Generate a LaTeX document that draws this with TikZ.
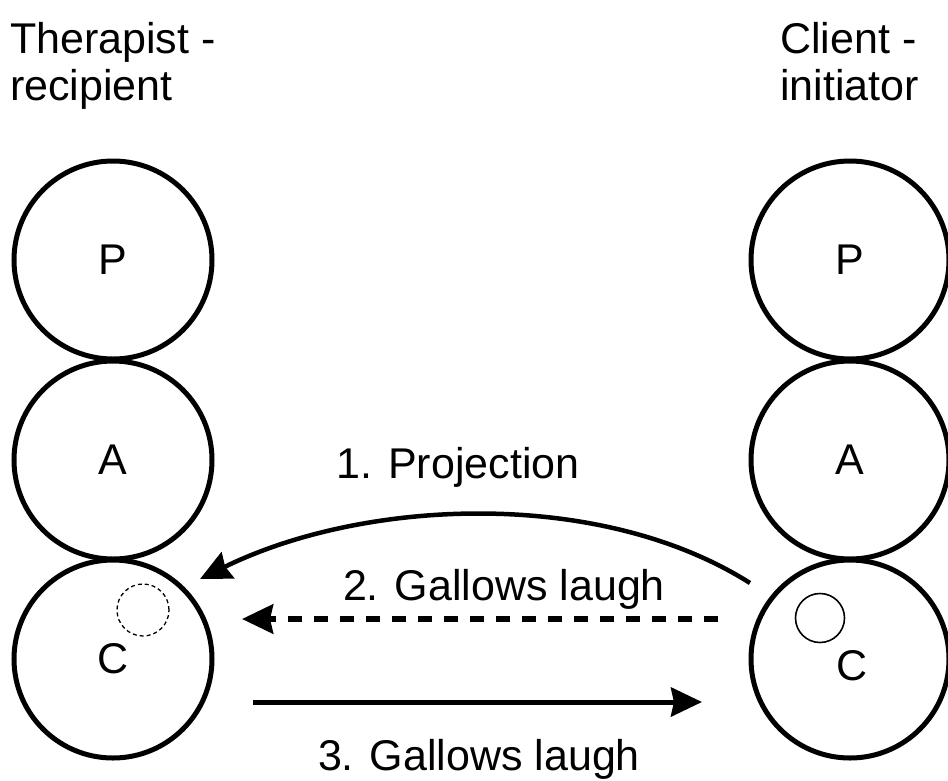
\documentclass[tikz,border=0pt]{standalone}
\usepackage{fontspec}
\setmainfont{Liberation Sans}
\usetikzlibrary{arrows.meta}
\begin{document}
\begin{tikzpicture}[x=1pt,y=-1pt,
  font=\fontsize{43}{47}\selectfont,
  ego/.style={circle,draw,line width=5pt,minimum size=198pt,inner sep=0pt},
  inner/.style={circle,draw,minimum size=50pt,inner sep=0pt},
  lbl/.style={anchor=base,inner sep=0pt},
  head/.style={anchor=base west,inner sep=0pt},
  tip/.style={-{Stealth[length=31pt,width=29pt,inset=3pt]}}
]
\useasboundingbox (0,0) rectangle (948,780);

% column headings
\node[head] (th1) at (10,53) {Therapist -};
\node[head] (th2) at (10,100) {recipient};
\node[head] (ch1) at (780,53) {Client -};
\node[head] (ch2) at (780,100) {initiator};

% therapist ego states
\node[ego] (tp) at (113,260) {P};
\node[ego] (ta) at (113,460) {A};
\node[ego] (tc) at (113,659) {C};
\node[inner,dashed,line width=1.3pt,dash pattern=on 4pt off 3pt,minimum size=52pt] (tcs) at (143,610) {};

% client ego states
\node[ego] (cp) at (850,260) {P};
\node[ego] (ca) at (850,460) {A};
\node[ego] (cc) at (850,659) {};
\node[inner,line width=1.6pt,minimum size=49pt] (ccs) at (820,618) {};
\node[lbl] (ccl) at (852,680) {C};

% connector end points
\coordinate (pStart) at (750,583);
\coordinate (pEnd) at (200,579);
\coordinate (gStart) at (718,619);
\coordinate (gEnd) at (242,619);
\coordinate (rStart) at (253,702);
\coordinate (rEnd) at (702,702);

% transactions
\draw[tip,line width=4.5pt] (pStart) .. controls (600,488) and (365,498) .. (pEnd);
\draw[tip,line width=6pt,dash pattern=on 14pt off 12pt] (gStart) -- (gEnd);
\draw[tip,line width=5pt] (rStart) -- (rEnd);

\node[lbl] (l1) at (458,478) {1. Projection};
\node[lbl] (l2) at (504,600) {2. Gallows laugh};
\node[lbl] (l3) at (479,770) {3. Gallows laugh};
\end{tikzpicture}
\end{document}
